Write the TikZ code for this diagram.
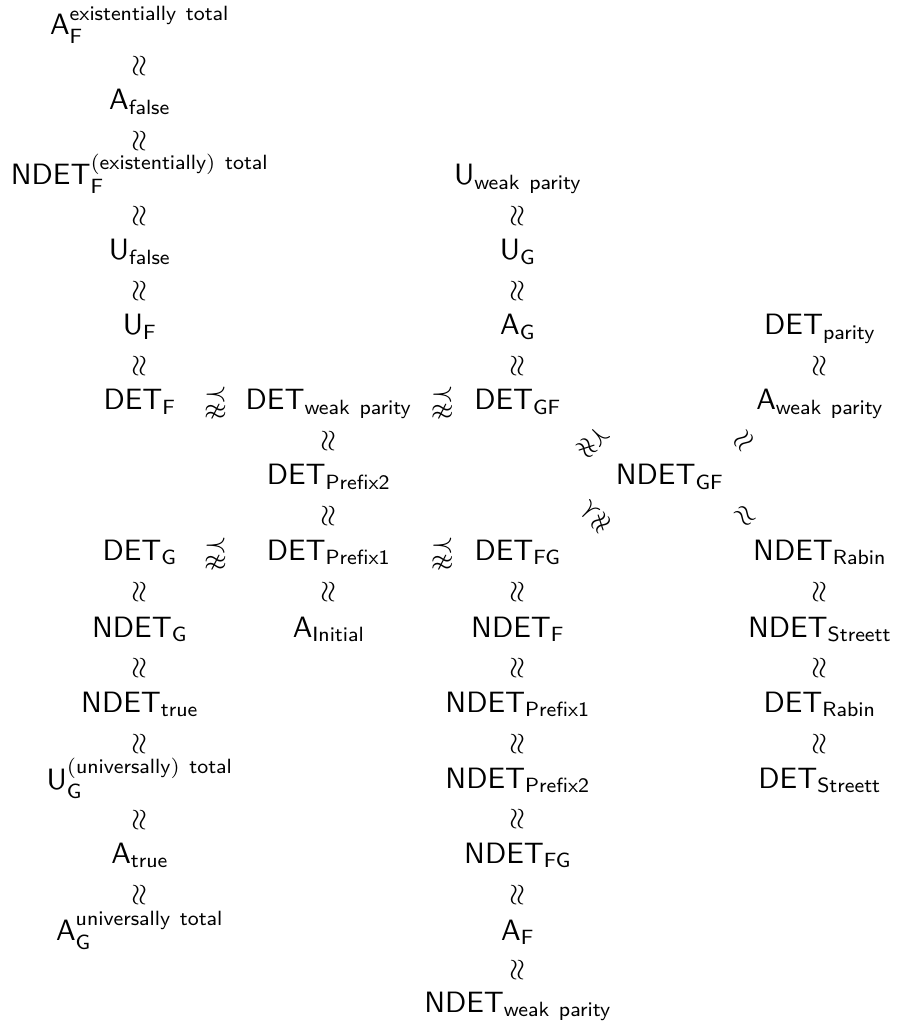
\documentclass[tikz,border=0pt]{standalone}
\usepackage{amsmath,amssymb}
\begin{document}
\begin{tikzpicture}[x=0.34pt,y=-0.34pt,
  every node/.style={inner sep=0pt, font=\sffamily\fontsize{10}{12}\selectfont},
  lbl/.style={anchor=base},
  veq/.style={rotate=90},
  hrel/.style={anchor=base}]
\useasboundingbox (0,0) rectangle (896,1025);
\newcommand{\tx}[1]{\textsf{#1}}
% column 1
\node[lbl] (AFex) at (140,35) {A\(_{\tx{F}}^{\tx{existentially}\ \tx{total}}\)};
\node[lbl] (Afalse) at (140,110) {A\(_{\tx{false}}\)};
\node[lbl] (NDETFex) at (140,185) {NDET\(_{\tx{F}}^{(\tx{existentially})\ \tx{total}}\)};
\node[lbl] (Ufalse) at (140,260) {U\(_{\tx{false}}\)};
\node[lbl] (UF) at (140,335) {U\(_{\tx{F}}\)};
\node[lbl] (DETF) at (140,410) {DET\(_{\tx{F}}\)};
\node[lbl] (DETG) at (140,560) {DET\(_{\tx{G}}\)};
\node[lbl] (NDETG) at (140,637) {NDET\(_{\tx{G}}\)};
\node[lbl] (NDETtrue) at (140,712) {NDET\(_{\tx{true}}\)};
\node[lbl] (UGun) at (140,789) {U\(_{\tx{G}}^{(\tx{universally})\ \tx{total}}\)};
\node[lbl] (Atrue) at (140,863) {A\(_{\tx{true}}\)};
\node[lbl] (AGun) at (140,940) {A\(_{\tx{G}}^{\tx{universally}\ \tx{total}}\)};
% column 2
\node[lbl] (DETwp) at (329,410) {DET\(_{\tx{weak}\ \tx{parity}}\)};
\node[lbl] (DETP2) at (329,485) {DET\(_{\tx{Prefix2}}\)};
\node[lbl] (DETP1) at (329,560) {DET\(_{\tx{Prefix1}}\)};
\node[lbl] (AInit) at (329,637) {A\(_{\tx{Initial}}\)};
% column 3
\node[lbl] (Uwp) at (518,185) {U\(_{\tx{weak}\ \tx{parity}}\)};
\node[lbl] (UG) at (518,260) {U\(_{\tx{G}}\)};
\node[lbl] (AG) at (518,335) {A\(_{\tx{G}}\)};
\node[lbl] (DETGF) at (518,410) {DET\(_{\tx{GF}}\)};
\node[lbl] (DETFG) at (518,560) {DET\(_{\tx{FG}}\)};
\node[lbl] (NDETF) at (518,637) {NDET\(_{\tx{F}}\)};
\node[lbl] (NDETP1) at (518,712) {NDET\(_{\tx{Prefix1}}\)};
\node[lbl] (NDETP2) at (518,788) {NDET\(_{\tx{Prefix2}}\)};
\node[lbl] (NDETFG) at (518,863) {NDET\(_{\tx{FG}}\)};
\node[lbl] (AF) at (518,940) {A\(_{\tx{F}}\)};
\node[lbl] (NDETwp) at (518,1012) {NDET\(_{\tx{weak}\ \tx{parity}}\)};
% middle
\node[lbl] (NDETGF) at (670,485) {NDET\(_{\tx{GF}}\)};
% column 4
\node[lbl] (DETpar) at (820,335) {DET\(_{\tx{parity}}\)};
\node[lbl] (Awp) at (820,410) {A\(_{\tx{weak}\ \tx{parity}}\)};
\node[lbl] (NDETRabin) at (820,560) {NDET\(_{\tx{Rabin}}\)};
\node[lbl] (NDETStreett) at (820,637) {NDET\(_{\tx{Streett}}\)};
\node[lbl] (DETRabin) at (820,712) {DET\(_{\tx{Rabin}}\)};
\node[lbl] (DETStreett) at (820,788) {DET\(_{\tx{Streett}}\)};
% vertical equivalences
\foreach \a/\b in {AFex/Afalse, Afalse/NDETFex, NDETFex/Ufalse, Ufalse/UF, UF/DETF,
  DETG/NDETG, NDETG/NDETtrue, NDETtrue/UGun, UGun/Atrue, Atrue/AGun,
  DETwp/DETP2, DETP2/DETP1, DETP1/AInit,
  Uwp/UG, UG/AG, AG/DETGF,
  DETFG/NDETF, NDETF/NDETP1, NDETP1/NDETP2, NDETP2/NDETFG, NDETFG/AF, AF/NDETwp,
  DETpar/Awp, NDETRabin/NDETStreett, NDETStreett/DETRabin, DETRabin/DETStreett}
  \path (\a.mid) -- node[veq] {$\approx$} (\b.mid);
% horizontal strict relations
\path (DETF.base) -- node[hrel,pos=0.4] {$\precnapprox$} (DETwp.base);
\path (DETwp.base) -- node[hrel,pos=0.6] {$\precnapprox$} (DETGF.base);
\path (DETG.base) -- node[hrel,pos=0.4] {$\precnapprox$} (DETP1.base);
\path (DETP1.base) -- node[hrel,pos=0.6] {$\precnapprox$} (DETFG.base);
% diagonal relations
\path (DETGF.mid) -- node[rotate=-45] {$\precnapprox$} (NDETGF.mid);
\path (DETFG.mid) -- node[rotate=45] {$\precnapprox$} (NDETGF.mid);
\path (NDETGF.mid) -- node[rotate=45] {$\approx$} (Awp.mid);
\path (NDETGF.mid) -- node[rotate=-45] {$\approx$} (NDETRabin.mid);
\end{tikzpicture}
\end{document}
